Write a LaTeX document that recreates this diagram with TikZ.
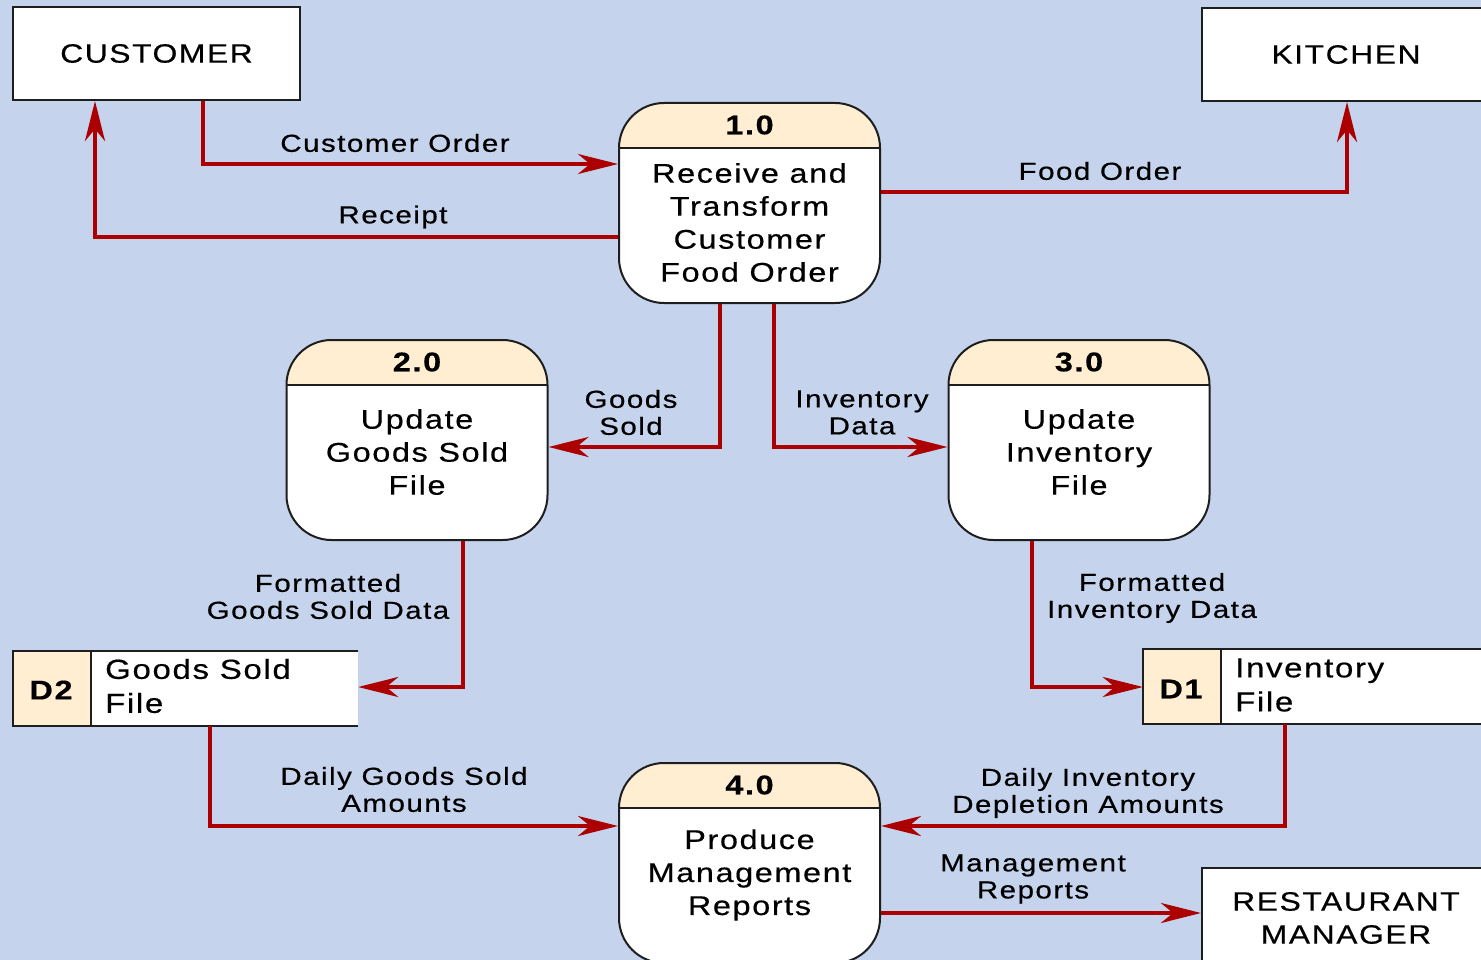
\documentclass[tikz,border=0pt]{standalone}
\usepackage{fontspec}
\setmainfont{Liberation Sans}[FakeStretch=1.2,LetterSpace=6,FakeBold=0.5]
\usetikzlibrary{arrows.meta}
\definecolor{bg}{RGB}{197,212,236}
\definecolor{flowred}{RGB}{172,0,0}
\definecolor{peach}{RGB}{255,238,210}
\definecolor{edge}{RGB}{30,30,30}
\begin{document}
\begin{tikzpicture}[x=1pt,y=-1pt,
  ent/.style={draw=edge,line width=2pt,fill=white,inner sep=0pt,align=center,
    font=\fontsize{26.5}{33}\selectfont},
  proc/.style={draw=edge,line width=2pt,fill=white,rounded corners=45pt,
    minimum width=261pt,minimum height=200pt,inner sep=0pt,
    path picture={
      \fill[peach,sharp corners] (path picture bounding box.north west) rectangle ([yshift=-45pt]path picture bounding box.north east);
      \draw[edge,line width=2pt,sharp corners] ([yshift=-45pt]path picture bounding box.north west) -- ([yshift=-45pt]path picture bounding box.north east);}},
  store/.style={fill=white,inner sep=0pt,minimum height=75pt},
  num/.style={font=\fontsize{27}{30}\bfseries\selectfont,inner sep=0pt},
  ptext/.style={font=\fontsize{27}{33}\selectfont,align=center,inner sep=0pt},
  stext/.style={font=\fontsize{27.5}{34}\selectfont,align=left,inner sep=0pt,anchor=west},
  lbl/.style={font=\fontsize{24.6}{27}\selectfont,align=center,inner sep=0pt},
  flow/.style={draw=flowred,line width=4pt,-{Stealth[length=40pt,width=20pt,inset=12pt]}}
]
\useasboundingbox (0,0) rectangle (1481,960);
\clip (0,0) rectangle (1481,960);
\fill[bg] (0,0) rectangle (1481,960);

% external entities
\node[ent,minimum width=287pt,minimum height=93pt] (cust) at (156.5,53.5) {CUSTOMER};
\node[ent,minimum width=288pt,minimum height=93pt] (kitchen) at (1346,54.5) {KITCHEN};
\node[ent,minimum width=288pt,minimum height=100pt] (mgr) at (1346,918) {RESTAURANT\\MANAGER};

% processes
\node[proc] (p1) at (749.5,203) {};
\node[num] at (749.5,125) {1.0};
\node[ptext] at (749.5,222.5) {Receive and\\Transform\\Customer\\Food Order};

\node[proc] (p2) at (417,440) {};
\node[num] at (417,362) {2.0};
\node[ptext] at (417,452) {Update\\Goods Sold\\File};

\node[proc] (p3) at (1079,440) {};
\node[num] at (1079,362) {3.0};
\node[ptext] at (1079,452) {Update\\Inventory\\File};

\node[proc] (p4) at (749.5,863) {};
\node[num] at (749.5,785) {4.0};
\node[ptext] at (749.5,875) {Produce\\Management\\Reports};

% data stores
\node[store,minimum width=345pt] (d2) at (185.5,688.5) {};
\fill[peach] (d2.north west) rectangle ([xshift=78pt]d2.south west);
\draw[edge,line width=2pt] (d2.north east) -- (d2.north west) -- (d2.south west) -- (d2.south east);
\draw[edge,line width=2pt] ([xshift=78pt]d2.north west) -- ([xshift=78pt]d2.south west);
\node[num] at (51,690) {D2};
\node[stext] at (105,686) {Goods Sold\\File};

\node[store,minimum width=357pt] (d1) at (1321.5,686.5) {};
\fill[peach] (d1.north west) rectangle ([xshift=78pt]d1.south west);
\draw[edge,line width=2pt] (d1.north east) -- (d1.north west) -- (d1.south west) -- (d1.south east);
\draw[edge,line width=2pt] ([xshift=78pt]d1.north west) -- ([xshift=78pt]d1.south west);
\node[num] at (1181,689) {D1};
\node[stext] at (1235,685) {Inventory\\File};

% flows
\draw[flow] ([xshift=46.5pt]cust.south) |- ([yshift=39pt]p1.west);
\draw[flow] ([yshift=-34pt]p1.west) -| ([xshift=-61.5pt]cust.south);
\draw[flow] ([yshift=11pt]p1.east) -| ([xshift=1pt]kitchen.south);
\draw[flow] ([xshift=-29.5pt]p1.south) |- ([yshift=-7pt]p2.east);
\draw[flow] ([xshift=24.5pt]p1.south) |- ([yshift=-7pt]p3.west);
\draw[flow] ([xshift=46pt]p2.south) |- ([yshift=1.5pt]d2.east);
\draw[flow] ([xshift=-47pt]p3.south) |- ([yshift=-0.5pt]d1.west);
\draw[flow] ([xshift=24.5pt]d2.south) |- ([yshift=37pt]p4.west);
\draw[flow] ([xshift=-36.5pt]d1.south) |- ([yshift=37pt]p4.east);
\draw[flow] ([yshift=-50pt]p4.east) -- ([yshift=5pt]mgr.west);

% labels
\node[lbl] (l1) at (395,143) {Customer Order};
\node[lbl] (l2) at (393,217) {Receipt};
\node[lbl] (l3) at (1100,171) {Food Order};
\node[lbl] (l4) at (631,412.5) {Goods\\Sold};
\node[lbl] (l5) at (862,412.5) {Inventory\\Data};
\node[lbl] (l6) at (328,596.5) {Formatted\\Goods Sold Data};
\node[lbl] (l7) at (1152,598) {Formatted\\Inventory Data};
\node[lbl] (l8) at (404,789.5) {Daily Goods Sold\\Amounts};
\node[lbl] (l9) at (1088,793) {Daily Inventory\\Depletion Amounts};
\node[lbl] (l10) at (1033,879) {Management\\Reports};
\end{tikzpicture}
\end{document}
